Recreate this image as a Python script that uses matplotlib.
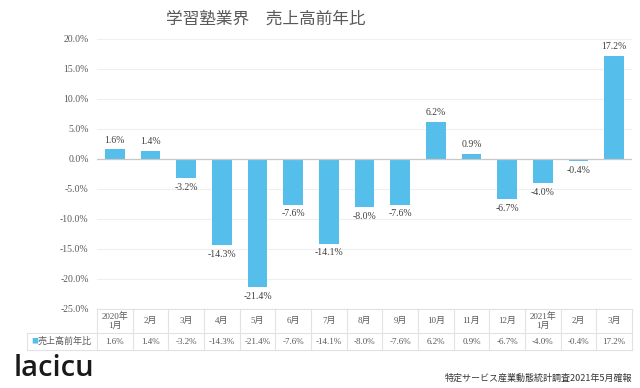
import matplotlib
matplotlib.use("Agg")
import matplotlib.pyplot as plt
from matplotlib.transforms import blended_transform_factory
import numpy as np

categories = ["2020年\n1月", "2月", "3月", "4月", "5月", "6月", "7月", "8月", "9月",
              "10月", "11月", "12月", "2021年\n1月", "2月", "3月"]
values = [1.6, 1.4, -3.2, -14.3, -21.4, -7.6, -14.1, -8.0, -7.6, 6.2, 0.9, -6.7, -4.0, -0.4, 17.2]
series_name = "売上高前年比"
title = "学習塾業界　売上高前年比"
source = "特定サービス産業動態統計調査2021年5月確報"
yticks = [20, 15, 10, 5, 0, -5, -10, -15, -20, -25]

SERIF = ["Liberation Serif", "Noto Sans CJK JP"]
SANS = ["Noto Sans CJK JP", "DejaVu Sans"]
BAR = "#55BEEA"
TXT = "#595959"

W, H = 640, 388
fig = plt.figure(figsize=(W / 100, H / 100), dpi=100)
L, R, T, B = 97, 632, 39, 309
ax = fig.add_axes([L / W, 1 - B / H, (R - L) / W, (B - T) / H])

x = np.arange(len(values))
ax.bar(x, values, width=0.55, color=BAR, zorder=3)
ax.set_xlim(-0.5, len(values) - 0.5)
ax.set_ylim(-25, 20)
ax.set_yticks(yticks)
ax.set_yticklabels([f"{t:.1f}%" for t in yticks], fontfamily=SERIF, fontsize=7, color=TXT)
ax.tick_params(axis="y", length=0, pad=6)
ax.set_xticks([])
for s in ax.spines.values():
    s.set_visible(False)
ax.grid(axis="y", color="#efefef", linewidth=0.8, zorder=0)
ax.axhline(0, color="#c8c8c8", linewidth=0.9, zorder=4)

for xi, v in zip(x, values):
    off = 0.8 if v >= 0 else -0.8
    ax.text(xi, v + off, f"{v:.1f}%", ha="center", va="bottom" if v >= 0 else "top",
            fontfamily=SERIF, fontsize=7, color="#404040")

# table below the axis
tr = blended_transform_factory(ax.transData, fig.transFigure)
def fy(p):
    return 1 - p / H
hdr_top, hdr_bot, row_bot = 309, 333, 350
tab_left = 27
lc = "#e2e2e2"
for yy in (hdr_top, hdr_bot, row_bot):
    x0 = L if yy == hdr_top else tab_left
    fig.add_artist(plt.Line2D([x0 / W, R / W], [fy(yy), fy(yy)], color=lc, linewidth=0.8))
for i in range(len(values) + 1):
    fig.add_artist(plt.Line2D([i - 0.5, i - 0.5], [fy(hdr_top), fy(row_bot)], color=lc,
                              linewidth=0.8, transform=tr))
fig.add_artist(plt.Line2D([tab_left / W, tab_left / W], [fy(hdr_bot), fy(row_bot)], color=lc, linewidth=0.8))

for xi, c, v in zip(x, categories, values):
    ax.text(xi, fy((hdr_top + hdr_bot) / 2), c, transform=tr, ha="center", va="center",
            fontfamily=SERIF, fontsize=6.5, color=TXT, linespacing=1.3)
    ax.text(xi, fy((hdr_bot + row_bot) / 2), f"{v:.1f}%", transform=tr, ha="center", va="center",
            fontfamily=SERIF, fontsize=6.5, color=TXT)
fig.text((tab_left + 4) / W, fy((hdr_bot + row_bot) / 2), "■", color=BAR, fontsize=5,
         ha="left", va="center", fontfamily=SANS)
fig.text((tab_left + 11) / W, fy((hdr_bot + row_bot) / 2), series_name, color=TXT, fontsize=6.5,
         ha="left", va="center", fontfamily=SANS)

fig.text(266 / W, fy(19), title, ha="center", va="center", fontsize=12, color=TXT, fontfamily=SANS)
fig.text(632 / W, fy(378), source, ha="right", va="center", fontsize=6.5, color="#333333", fontfamily=SANS)
fig.text(14 / W, fy(369), "lacicu", ha="left", va="center", fontsize=21, color="#1a1a1a",
         fontfamily=["Open Sans", "DejaVu Sans"], fontweight="semibold")

fig.savefig("out.png", dpi=100, facecolor="white")
